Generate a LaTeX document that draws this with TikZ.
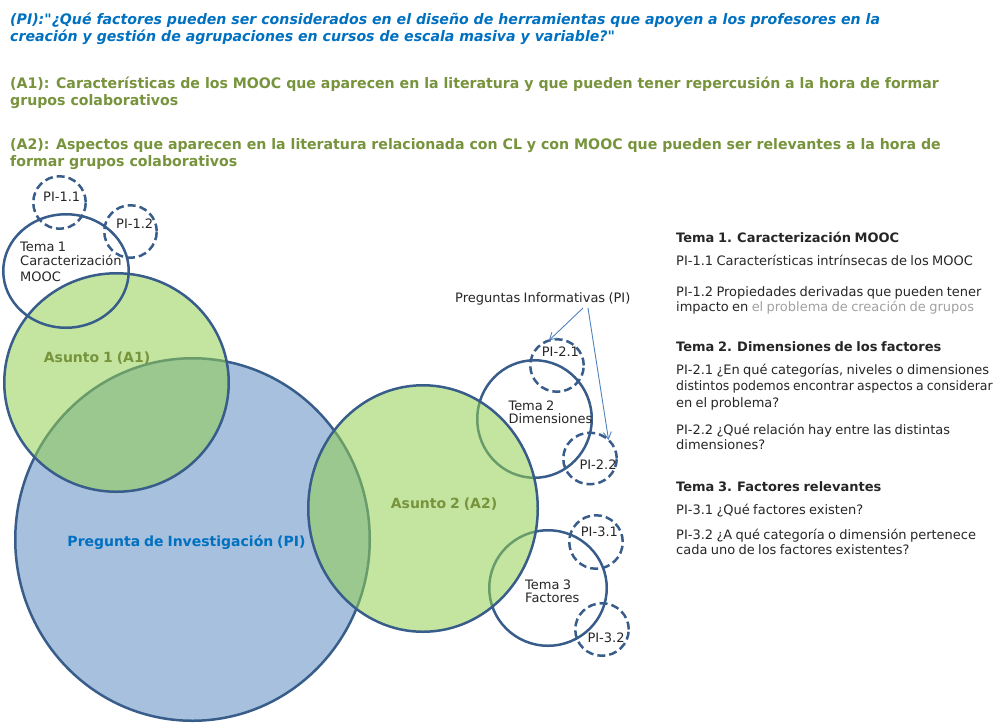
\documentclass[tikz,border=0pt]{standalone}
\usepackage{fontspec}
\setmainfont{DejaVu Sans}[WordSpace=0.8]
\newfontfamily\topfont[FakeStretch=0.975]{DejaVu Sans}
\usetikzlibrary{shapes.geometric,arrows.meta}
\definecolor{outl}{HTML}{385D8A}
\definecolor{pifill}{HTML}{4F81BD}
\definecolor{asfill}{HTML}{92D050}
\definecolor{pitext}{HTML}{0070C0}
\definecolor{astext}{HTML}{77933C}
\definecolor{arrowc}{HTML}{4F81BD}
\definecolor{graytext}{HTML}{A0A0A0}
\definecolor{bodytext}{HTML}{262626}
\begin{document}
\begin{tikzpicture}[x=1pt,y=-1pt,
  ring/.style={ellipse,draw=outl,line width=2.5pt,inner sep=0pt,outer sep=0pt},
  bigq/.style={ring,fill=pifill,fill opacity=0.5},
  asunto/.style={ring,fill=asfill,fill opacity=0.55},
  dashring/.style={ring,dash pattern=on 8pt off 4pt},
  lbl/.style={anchor=base west,inner sep=0pt,font=\fontsize{13}{15}\selectfont,text=bodytext},
  sidehead/.style={lbl,font=\bfseries\fontsize{13}{15}\selectfont},
  toppi/.style={anchor=base west,inner sep=0pt,font=\topfont\bfseries\itshape\fontsize{14.5}{17}\selectfont,text=pitext},
  topas/.style={anchor=base west,inner sep=0pt,font=\topfont\bfseries\fontsize{14.5}{17}\selectfont,text=astext},
  bigl/.style={anchor=base,inner sep=0pt,font=\bfseries\fontsize{14}{16}\selectfont},
  infoarrow/.style={draw=arrowc,line width=0.9pt,-{Straight Barb[length=7pt,width=8pt]}}
]
\useasboundingbox (0,0) rectangle (1003,724);

% top texts
\node[toppi] (tpi1) at (10,24) {(PI):"¿Qué factores pueden ser considerados en el diseño de herramientas que apoyen a los profesores en la};
\node[toppi] (tpi2) at (10,41) {creación y gestión de agrupaciones en cursos de escala masiva y variable?"};
\node[topas] (ta11) at (10,88) {(A1): Características de los MOOC que aparecen en la literatura y que pueden tener repercusión a la hora de formar};
\node[topas] (ta12) at (10,105) {grupos colaborativos};
\node[topas] (ta21) at (10,149) {(A2): Aspectos que aparecen en la literatura relacionada con CL y con MOOC que pueden ser relevantes a la hora de};
\node[topas] (ta22) at (10,166) {formar grupos colaborativos};

% circles
\node[bigq, minimum width=354.5pt, minimum height=362.5pt] (pi) at (192.5,539.5) {};
\node[asunto, minimum width=224.5pt, minimum height=218.5pt] (a1) at (116.5,382.5) {};
\node[ring, minimum width=125.5pt, minimum height=113.5pt] (t1) at (66,271) {};
\node[dashring, minimum width=52.5pt, minimum height=52.5pt] (p11) at (59.5,202.5) {};
\node[dashring, minimum width=52.5pt, minimum height=52.5pt] (p12) at (130.5,231.5) {};
\node[ring, minimum width=114.5pt, minimum height=117.5pt] (t2) at (534.5,419) {};
\node[ring, minimum width=117.5pt, minimum height=115.5pt] (t3) at (548,588) {};
\node[asunto, minimum width=229.5pt, minimum height=246.5pt] (a2) at (423,508.5) {};
\node[dashring, minimum width=53.5pt, minimum height=52.5pt] (p21) at (557,365.5) {};
\node[dashring, minimum width=53.5pt, minimum height=51.5pt] (p22) at (590,458.5) {};
\node[dashring, minimum width=53.5pt, minimum height=53.5pt] (p31) at (596,542) {};
\node[dashring, minimum width=53.5pt, minimum height=52.5pt] (p32) at (602,629.5) {};

% circle labels
\node[bigl, text=astext] (la1) at (97,362.3) {Asunto 1 (A1)};
\node[bigl, text=astext] (la2) at (444,508.3) {Asunto 2 (A2)};
\node[bigl, text=pitext] (lpi) at (186.5,546.7) {Pregunta de Investigación (PI)};
\node[lbl] (lt1a) at (20,251.7) {Tema 1};
\node[lbl] (lt1b) at (20,265.7) {Caracterización};
\node[lbl] (lt1c) at (20,281) {MOOC};
\node[lbl] (lp11) at (43,201.7) {PI-1.1};
\node[lbl] (lp12) at (116,228.3) {PI-1.2};
\node[lbl] (lt2a) at (508.3,410) {Tema 2};
\node[lbl] (lt2b) at (508.3,423) {Dimensiones};
\node[lbl] (lp21) at (541.7,356.7) {PI-2.1};
\node[lbl] (lp22) at (579.3,469.3) {PI-2.2};
\node[lbl] (lt3a) at (525,589.3) {Tema 3};
\node[lbl] (lt3b) at (525,602.7) {Factores};
\node[lbl] (lp31) at (580.7,536) {PI-3.1};
\node[lbl] (lp32) at (587.3,642.7) {PI-3.2};

% informative questions label and arrows
\node[lbl] (pinf) at (455,302.7) {Preguntas Informativas (PI)};
\coordinate (pa1) at (583,308);
\coordinate (pa2) at (588,308);
\draw[infoarrow] (pa1) -- (p21.108);
\draw[infoarrow] (pa2) -- (p22.45);

% right side text
\node[sidehead] (h1) at (676,242.7) {Tema 1. Caracterización MOOC};
\node[lbl] (r11) at (676,265.7) {PI-1.1 Características intrínsecas de los MOOC};
\node[lbl] (r12a) at (676,296.7) {PI-1.2 Propiedades derivadas que pueden tener};
\node[lbl] (r12b) at (676,311.7) {impacto en \textcolor{graytext}{el problema de creación de grupos}};
\node[sidehead] (h2) at (676,351) {Tema 2. Dimensiones de los factores};
\node[lbl] (r21a) at (676,374) {PI-2.1 ¿En qué categorías, niveles o dimensiones};
\node[lbl] (r21b) at (676,390.7) {\scalebox{0.96}[1]{distintos podemos encontrar aspectos a considerar}};
\node[lbl] (r21c) at (676,407) {en el problema?};
\node[lbl] (r22a) at (676,434) {PI-2.2 ¿Qué relación hay entre las distintas};
\node[lbl] (r22b) at (676,449) {dimensiones?};
\node[sidehead] (h3) at (676,491.7) {Tema 3. Factores relevantes};
\node[lbl] (r31) at (676,514) {PI-3.1 ¿Qué factores existen?};
\node[lbl] (r32a) at (676,539.3) {PI-3.2 ¿A qué categoría o dimensión pertenece};
\node[lbl] (r32b) at (676,554) {cada uno de los factores existentes?};
\end{tikzpicture}
\end{document}
